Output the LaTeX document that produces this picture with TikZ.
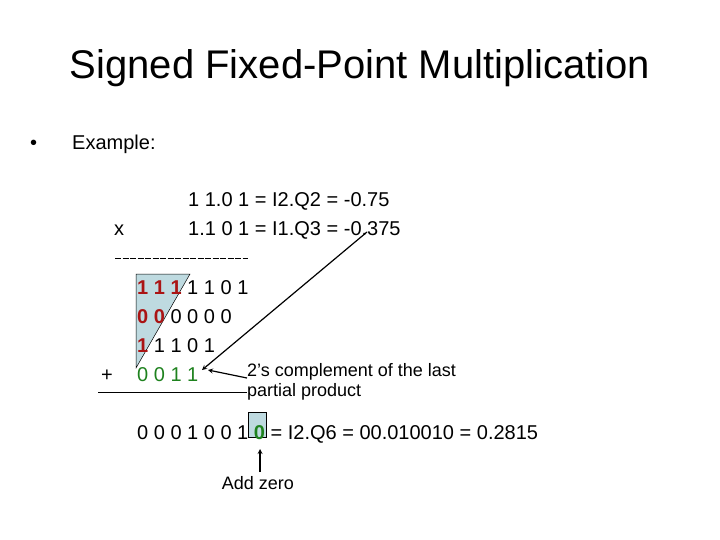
\documentclass[tikz,border=0pt]{standalone}
\usepackage{fontspec}
\setmainfont{Liberation Sans}
\definecolor{dred}{RGB}{170,20,20}
\definecolor{dgreen}{RGB}{30,130,30}
\definecolor{lblue}{RGB}{190,218,224}
\begin{document}
\begin{tikzpicture}[x=1pt,y=-1pt,
  t/.style={anchor=base west,inner sep=0pt,font=\fontsize{20}{22}\selectfont},
  s/.style={anchor=base west,inner sep=0pt,font=\fontsize{18}{20}\selectfont},
  arr/.style={-stealth,line width=1.2pt}]
\useasboundingbox (0,0) rectangle (720,540);
\fill[white] (0,0) rectangle (720,540);
\node[inner sep=0pt,font=\fontsize{40}{44}\selectfont] (title) at (360,68) {Signed Fixed-Point Multiplication};
\node[t] (bul) at (30,150) {•};
\node[t] (ex) at (72,150) {Example:};
% triangle
\fill[lblue] (136,274) -- (190,274) -- (136,368) -- cycle;
\draw[line width=0.5pt] (136,274) -- (190,274) -- (136,368) -- cycle;
\fill[lblue] (248,412) rectangle (266,437);
\draw[line width=0.6pt] (248,412) rectangle (266,437);
\node[t] (l1) at (188,207) {1 1.0 1 = I2.Q2 = -0.75};
\node[t] (x) at (114,236) {x};
\node[t] (l2) at (188,236) {1.1 0 1 = I1.Q3 = -0.375};
\draw[line width=1pt,dash pattern=on 6pt off 1.5pt] (115,258) -- (248,258);
\node[t] (r1) at (137,294) {\textbf{\color{dred}1 1 1} 1 1 0 1};
\node[t] (r2) at (137,323) {\textbf{\color{dred}0 0} 0 0 0 0};
\node[t] (r3) at (137,352) {\textbf{\color{dred}1} 1 1 0 1};
\node[t] (plus) at (101,381) {+};
\node[t,text=dgreen] (r4) at (137,381) {0 0 1 1};
\draw[line width=1pt] (98,392) -- (247,392);
\node[s] (c1) at (247,376) {2’s complement of the last};
\node[s] (c2) at (247,396) {partial product};
\node[t] (res) at (137,439) {0 0 0 1 0 0 1 \textbf{\color{dgreen}0} = I2.Q6 = 00.010010 = 0.2815};
\node[s,anchor=base] (add) at (258,489) {Add zero};
\coordinate (a1) at (367,232);
\coordinate (e1) at (202,370);
\coordinate (a2) at (247,378);
\coordinate (e2) at (208,370);
\coordinate (a3) at (260,472);
\coordinate (e3) at (260,449);
\draw[arr] (a1) -- (e1);
\draw[arr] (a2) -- (e2);
\draw[arr] (a3) -- (e3);
\end{tikzpicture}
\end{document}
